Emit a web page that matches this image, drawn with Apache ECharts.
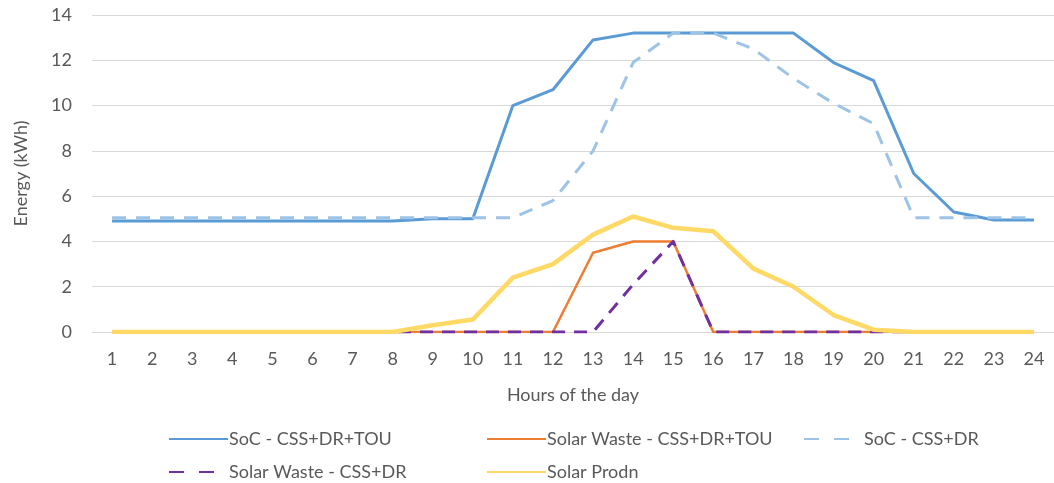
<!DOCTYPE html>
<html>
<head>
<meta charset="utf-8">
<script src="https://cdn.jsdelivr.net/npm/echarts@6/dist/echarts.min.js"></script>
<style>
  html, body { margin: 0; padding: 0; background: #fff; }
  #chart { width: 1054px; height: 483px; }
</style>
</head>
<body>
<div id="chart"></div>
<script>
// Hours of the day (x axis categories)
const hours = ['1','2','3','4','5','6','7','8','9','10','11','12','13','14','15','16','17','18','19','20','21','22','23','24'];

// Battery state of charge and solar energy per hour (kWh)
const socCssDrTou       = [4.9,4.9,4.9,4.9,4.9,4.9,4.9,4.9,5.0,5.0,10.0,10.7,12.9,13.2,13.2,13.2,13.2,13.2,11.9,11.1,7.0,5.3,4.95,4.95];
const solarWasteDrTou   = [0,0,0,0,0,0,0,0,0,0,0,0,3.5,4.0,4.0,0,0,0,0,0,0,0,0,0];
const socCssDr          = [5.05,5.05,5.05,5.05,5.05,5.05,5.05,5.05,5.05,5.05,5.05,5.8,8.0,11.9,13.2,13.2,12.5,11.2,10.1,9.2,5.05,5.05,5.05,5.05];
const solarWasteDr      = [0,0,0,0,0,0,0,0,0,0,0,0,0,2.1,4.0,0,0,0,0,0,0,0,0,0];
const solarProdn        = [0,0,0,0,0,0,0,0,0.3,0.55,2.4,3.0,4.3,5.1,4.6,4.45,2.8,2.0,0.75,0.1,0,0,0,0];

// Y axis ticks
const yMin = 0, yMax = 14, yStep = 2;

const seriesNames = ['SoC - CSS+DR+TOU', 'Solar Waste - CSS+DR+TOU', 'SoC - CSS+DR', 'Solar Waste - CSS+DR', 'Solar Prodn'];

const FONT = 'Lato';
const TEXT = '#595959';

const chart = echarts.init(document.getElementById('chart'), null, { renderer: 'canvas' });

function lineSeries(name, data, color, width, dash, z) {
  return {
    name: name,
    type: 'line',
    data: data,
    symbol: 'none',
    smooth: false,
    z: z,
    itemStyle: { color: color },
    lineStyle: { color: color, width: width, type: dash || 'solid', cap: 'butt', join: 'round' },
    emphasis: { disabled: true },
    animation: false
  };
}

// One legend block per entry so each sits in its own column
function legendItem(name, left, top, dashed) {
  return {
    data: [name],
    left: left,
    top: top,
    itemWidth: 59,
    itemHeight: 12,
    itemGap: 0,
    padding: 0,
    selectedMode: false,
    itemStyle: { color: 'transparent', borderWidth: 0, opacity: 0 },
    lineStyle: dashed ? { type: [15, 15] } : {},
    textStyle: { fontFamily: FONT, fontSize: 18, color: TEXT, padding: [0, 0, 0, -4] }
  };
}

chart.setOption({
  backgroundColor: '#ffffff',
  animation: false,
  grid: { left: 92, right: -8, top: 15, bottom: 151, containLabel: false },
  xAxis: {
    type: 'category',
    data: hours,
    boundaryGap: true,
    name: 'Hours of the day',
    nameLocation: 'middle',
    nameGap: 54,
    nameTextStyle: { fontFamily: FONT, fontSize: 18, color: TEXT },
    axisLine: { show: true, lineStyle: { color: '#D9D9D9', width: 1 } },
    axisTick: { show: false },
    axisLabel: { fontFamily: FONT, fontSize: 18, color: TEXT, margin: 18 },
    splitLine: { show: false }
  },
  yAxis: {
    type: 'value',
    min: yMin,
    max: yMax,
    interval: yStep,
    name: 'Energy (kWh)',
    nameLocation: 'middle',
    nameGap: 62,
    nameTextStyle: { fontFamily: FONT, fontSize: 18, color: TEXT },
    axisLine: { show: false },
    axisTick: { show: false },
    axisLabel: { fontFamily: FONT, fontSize: 18, color: TEXT, margin: 20 },
    splitLine: { show: true, lineStyle: { color: '#D9D9D9', width: 1 } }
  },
  legend: [
    legendItem(seriesNames[0], 168, 430, false),
    legendItem(seriesNames[1], 486, 430, false),
    legendItem(seriesNames[2], 803, 430, true),
    legendItem(seriesNames[3], 168, 463, true),
    legendItem(seriesNames[4], 486, 463, false)
  ],
  series: [
    lineSeries(seriesNames[0], socCssDrTou, '#5B9BD5', 3, 'solid', 2),
    lineSeries(seriesNames[1], solarWasteDrTou, '#ED7D31', 2.5, 'solid', 3),
    lineSeries(seriesNames[2], socCssDr, '#9DC3E6', 3, [14, 10], 4),
    lineSeries(seriesNames[3], solarWasteDr, '#7030A0', 3, [13, 9], 5),
    lineSeries(seriesNames[4], solarProdn, '#FFD966', 4.5, 'solid', 6)
  ]
});
</script>
</body>
</html>
